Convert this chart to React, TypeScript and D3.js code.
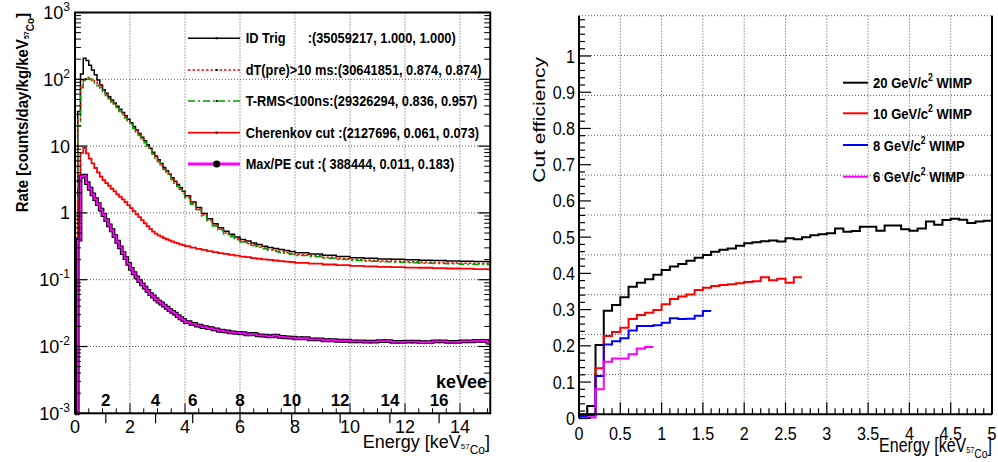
import React from "react";
import * as d3 from "d3";

const FONT = "'Liberation Sans', Arial, Helvetica, sans-serif";

// ---------------- Left panel: rate spectra (log y) ----------------
const binLowEdges: number[] = [
  ...d3.range(0, 40).map((i) => i / 10),
  ...d3.range(0, 20).map((i) => 4 + i * 0.2),
  ...d3.range(0, 14).map((i) => 8 + i * 0.5),
  15,
];
const binTopEdge = 15.1;

const idTrig = [
  0.006, 33, 120, 206, 192, 163, 138, 117, 98, 82,
  70, 62, 55, 49, 44, 39.5, 35.5, 31.9, 28.4, 25.3,
  22.3, 19.7, 17.4, 15.4, 13.6, 12.0, 10.5, 9.3, 8.1, 7.1,
  6.25, 5.5, 4.8, 4.27, 3.8, 3.36, 2.99, 2.66, 2.37, 2.11,
  1.8, 1.46, 1.2, 0.98, 0.82, 0.69, 0.6, 0.53, 0.48, 0.436,
  0.4, 0.378, 0.355, 0.336, 0.318, 0.303, 0.292, 0.282, 0.273, 0.264,
  0.253, 0.243, 0.232, 0.222, 0.214, 0.209, 0.205, 0.202, 0.199, 0.196, 0.194, 0.191, 0.189, 0.187,
  0.186,
];
const dtPre = [
  0.005, 25, 80, 100, 106, 105, 99, 91, 83, 76,
  66, 59, 52.5, 47, 42, 37.8, 34, 30.5, 27.2, 24.2,
  21.4, 18.9, 16.7, 14.8, 13.0, 11.5, 10.1, 8.9, 7.8, 6.8,
  6.0, 5.28, 4.6, 4.1, 3.64, 3.22, 2.87, 2.55, 2.27, 2.02,
  1.72, 1.39, 1.14, 0.93, 0.78, 0.655, 0.57, 0.5, 0.453, 0.41,
  0.377, 0.355, 0.333, 0.315, 0.298, 0.284, 0.273, 0.263, 0.255, 0.247,
  0.236, 0.227, 0.216, 0.207, 0.2, 0.195, 0.191, 0.188, 0.185, 0.182, 0.18, 0.178, 0.176, 0.174,
  0.173,
];
const tRms = [
  0.005, 20, 75, 96, 101, 100, 95, 88, 80, 73.5,
  64, 57, 51, 45.6, 40.8, 36.7, 33, 29.6, 26.4, 23.5,
  20.8, 18.4, 16.2, 14.4, 12.6, 11.2, 9.8, 8.65, 7.6, 6.6,
  5.83, 5.13, 4.47, 3.98, 3.53, 3.13, 2.79, 2.48, 2.2, 1.96,
  1.67, 1.35, 1.11, 0.9, 0.755, 0.635, 0.553, 0.485, 0.44, 0.398,
  0.366, 0.345, 0.324, 0.306, 0.29, 0.276, 0.265, 0.256, 0.248, 0.24,
  0.23, 0.221, 0.21, 0.201, 0.194, 0.189, 0.185, 0.182, 0.179, 0.177, 0.175, 0.173, 0.171, 0.169,
  0.168,
];
const cherenkov = [
  0.006, 1.5, 7.9, 9.4, 7.8, 6.5, 5.5, 4.7, 4.05, 3.5,
  3.1, 2.8, 2.55, 2.3, 2.1, 1.9, 1.74, 1.59, 1.45, 1.31,
  1.18, 1.06, 0.96, 0.865, 0.78, 0.7, 0.634, 0.57, 0.525, 0.49,
  0.462, 0.44, 0.42, 0.403, 0.387, 0.373, 0.36, 0.349, 0.339, 0.33,
  0.318, 0.303, 0.29, 0.279, 0.268, 0.259, 0.25, 0.243, 0.236, 0.229,
  0.222, 0.217, 0.211, 0.206, 0.202, 0.198, 0.194, 0.19, 0.187, 0.184,
  0.179, 0.174, 0.169, 0.165, 0.161, 0.158, 0.156, 0.154, 0.152, 0.151, 0.149, 0.147, 0.146, 0.144,
  0.143,
];
const maxPe = [
  0.0008, 0.4, 3.5, 3.6, 2.8, 2.3, 1.9, 1.6, 1.35, 1.12,
  0.93, 0.78, 0.65, 0.55, 0.45, 0.37, 0.305, 0.25, 0.21, 0.172,
  0.145, 0.125, 0.108, 0.095, 0.085, 0.076, 0.068, 0.061, 0.056, 0.051,
  0.047, 0.044, 0.041, 0.038, 0.035, 0.033, 0.031, 0.0285, 0.0265, 0.025,
  0.0232, 0.0218, 0.0205, 0.0195, 0.0188, 0.018, 0.0172, 0.0168, 0.0163, 0.016,
  0.0158, 0.0152, 0.0155, 0.0147, 0.0145, 0.0142, 0.0145, 0.0139, 0.0137, 0.0136,
  0.0133, 0.0128, 0.0124, 0.0122, 0.0119, 0.0118, 0.012, 0.0117, 0.0118, 0.0116, 0.0119, 0.0117, 0.0119, 0.0121,
  0.0114,
];

const leftLegendNames = ["ID Trig", "dT(pre)>10 ms:", "T-RMS<100ns:", "Cherenkov cut :", "Max/PE cut :"];
const leftLegendStats = [
  ":(35059217, 1.000, 1.000)",
  "(30641851, 0.874, 0.874)",
  "(29326294, 0.836, 0.957)",
  "(2127696, 0.061, 0.073)",
  "( 388444, 0.011, 0.183)",
];

const xTicksLeft = [0, 2, 4, 6, 8, 10, 12, 14];
const yDecadesLeft = [-3, -2, -1, 0, 1, 2, 3];
const keVeeLabels = [2, 4, 6, 8, 10, 12, 14, 16];
const keVeePositions = [1.12, 2.93, 4.28, 6.0, 7.88, 9.64, 11.45, 13.24];

// ---------------- Right panel: cut efficiency ----------------
const effBinWidth = 0.1;
const wimp20 = [
  0.01, 0.034, 0.202, 0.297, 0.313, 0.334, 0.363, 0.374, 0.384, 0.396,
  0.409, 0.419, 0.426, 0.435, 0.443, 0.451, 0.46, 0.465, 0.469, 0.476,
  0.483, 0.486, 0.489, 0.491, 0.488, 0.497, 0.494, 0.5, 0.505, 0.508,
  0.511, 0.524, 0.515, 0.517, 0.529, 0.529, 0.518, 0.532, 0.532, 0.522,
  0.518, 0.524, 0.543, 0.534, 0.547, 0.551, 0.548, 0.539, 0.543, 0.545,
];
const wimp10 = [
  0.008, 0.011, 0.138, 0.227, 0.238, 0.25, 0.274, 0.285, 0.291, 0.299,
  0.315, 0.329, 0.336, 0.342, 0.354, 0.36, 0.365, 0.368, 0.37, 0.373,
  0.376, 0.378, 0.389, 0.381, 0.385, 0.374, 0.389,
];
const wimp8 = [
  0.006, 0.008, 0.117, 0.204, 0.213, 0.221, 0.242, 0.255, 0.255, 0.257,
  0.264, 0.276, 0.274, 0.275, 0.283, 0.296,
];
const wimp6 = [0, 0.002, 0.08, 0.156, 0.165, 0.165, 0.177, 0.193, 0.197];

const rightLegendMass = ["20", "10", "8", "6"];
const xTicksRight = [0, 0.5, 1, 1.5, 2, 2.5, 3, 3.5, 4, 4.5, 5];
const yTicksRight = [0, 0.1, 0.2, 0.3, 0.4, 0.5, 0.6, 0.7, 0.8, 0.9, 1];

type TxtProps = {
  x: number; y: number; sx?: number; rot?: number; anchor?: string;
  size?: number; weight?: string | number; children?: React.ReactNode;
};
function Txt({ x, y, sx = 1, rot = 0, anchor = "start", size = 18, weight = "normal", children }: TxtProps) {
  const tf = `translate(${x},${y}) scale(${sx},1)` + (rot ? ` rotate(${rot})` : "");
  return (
    <text transform={tf} textAnchor={anchor as any} fontSize={size} fontWeight={weight} fontFamily={FONT} fill="#000">
      {children}
    </text>
  );
}

const GRID = { stroke: "#555", strokeWidth: 1, strokeDasharray: "1,2" };

export default function App() {
  const xL = d3.scaleLinear().domain([0, 15.1]).range([75, 490.25]);
  const yL = d3.scaleLog().domain([1e-3, 1e3]).range([413.3, 12.5]);
  const yLc = (v: number) => yL(Math.max(v, 1e-3));
  const xR = d3.scaleLinear().domain([0, 5]).range([579, 992]);
  const yR = d3.scaleLinear().domain([0, 1]).range([418.3, 56]);
  const gR = d3.scaleLinear().domain([0, 1]).range([414.3, 15.7]);

  const stepLine = d3.line<[number, number]>().curve(d3.curveStepAfter);
  const hist = (lows: number[], top: number, vals: number[], xs: (v: number) => number, ys: (v: number) => number) => {
    const pts: [number, number][] = lows.map((e, i) => [xs(e), ys(vals[i])]);
    pts.push([xs(top), ys(vals[vals.length - 1])]);
    return stepLine(pts) || "";
  };
  const effPath = (vals: number[]) =>
    hist(vals.map((_, i) => i * effBinWidth), vals.length * effBinWidth, vals, xR, yR);

  const binCenters = binLowEdges.map((e, i) => (e + (i + 1 < binLowEdges.length ? binLowEdges[i + 1] : binTopEdge)) / 2);

  const leftSeries = [
    { vals: idTrig, color: "#000", width: 1.5, dash: undefined as string | undefined },
    { vals: dtPre, color: "#ff0000", width: 1.6, dash: "2.5,2" },
    { vals: tRms, color: "#00a000", width: 1.5, dash: "7,3,2,3" },
    { vals: cherenkov, color: "#ff0000", width: 1.8, dash: undefined },
  ];

  const logMinor: number[] = [];
  d3.range(-3, 3).forEach((d) => d3.range(2, 10).forEach((k) => logMinor.push(k * Math.pow(10, d))));

  const leftLegendY = [38.3, 70, 101, 132.7, 164];
  const legendStyles = [
    { color: "#000", dash: undefined as string | undefined, w: 1.5 },
    { color: "#ff0000", dash: "2.5,2", w: 1.6 },
    { color: "#00a000", dash: "7,3,2,3", w: 1.5 },
    { color: "#ff0000", dash: undefined, w: 1.8 },
    { color: "#ff00ff", dash: undefined, w: 3 },
  ];

  const rightSeries = [
    { vals: wimp20, color: "#000" },
    { vals: wimp10, color: "#ff0000" },
    { vals: wimp8, color: "#0000ff" },
    { vals: wimp6, color: "#ff00ff" },
  ];
  const rightLegendY = [82.7, 113.3, 145, 176.7];

  const xMinorL = d3.range(0, 31).map((i) => i * 0.5);
  const yMinorR = d3.range(0, 56).map((i) => i * 0.02);
  const xMinorR = d3.range(0, 51).map((i) => i * 0.1);

  return (
    <svg width={998} height={462} style={{ position: "absolute", left: 0, top: 0, display: "block" }}>
      <rect x={0} y={0} width={998} height={462} fill="#fff" />

      {/* ================= LEFT PANEL ================= */}
      {xTicksLeft.filter((t) => t > 0).map((t) => (
        <line key={"gxl" + t} x1={xL(t)} x2={xL(t)} y1={yL(1e3)} y2={yL(1e-3)} {...GRID} />
      ))}
      {yDecadesLeft.filter((d) => d > -3 && d < 3).map((d) => (
        <line key={"gyl" + d} x1={xL(0)} x2={xL(15.1)} y1={yL(Math.pow(10, d))} y2={yL(Math.pow(10, d))} {...GRID} />
      ))}

      {leftSeries.map((s, i) => (
        <path key={"ls" + i} d={hist(binLowEdges, binTopEdge, s.vals, xL, yLc)} fill="none"
          stroke={s.color} strokeWidth={s.width} strokeDasharray={s.dash} />
      ))}
      <path d={hist(binLowEdges, binTopEdge, maxPe, xL, yLc)} fill="none" stroke="#000" strokeWidth={3.8} />
      {maxPe.map((v, i) => (
        <circle key={"mk" + i} cx={xL(binCenters[i])} cy={yLc(v)} r={1.9} fill="#000" />
      ))}
      <path d={hist(binLowEdges, binTopEdge, maxPe, xL, yLc)} fill="none" stroke="#ff00ff" strokeWidth={1.8} />

      <rect x={xL(0)} y={yL(1e3)} width={xL(15.1) - xL(0)} height={yL(1e-3) - yL(1e3)} fill="none" stroke="#000" strokeWidth={2} />

      {yDecadesLeft.map((d) => {
        const y = yL(Math.pow(10, d));
        return (
          <g key={"ytl" + d}>
            <line x1={xL(0)} x2={xL(0) + 12} y1={y} y2={y} stroke="#000" strokeWidth={1.2} />
            <line x1={xL(15.1)} x2={xL(15.1) - 12} y1={y} y2={y} stroke="#000" strokeWidth={1.2} />
          </g>
        );
      })}
      {logMinor.map((v, i) => (
        <g key={"ymn" + i}>
          <line x1={xL(0)} x2={xL(0) + 6} y1={yL(v)} y2={yL(v)} stroke="#000" strokeWidth={1} />
          <line x1={xL(15.1)} x2={xL(15.1) - 6} y1={yL(v)} y2={yL(v)} stroke="#000" strokeWidth={1} />
        </g>
      ))}
      {xMinorL.map((t) => (
        <line key={"xmn" + t} x1={xL(t)} x2={xL(t)} y1={yL(1e-3)} y2={yL(1e-3) - (t % 2 === 0 ? 10 : 5)} stroke="#000" strokeWidth={1} />
      ))}
      {keVeePositions.map((p, i) => (
        <line key={"kvt" + i} x1={xL(p)} x2={xL(p)} y1={yL(1e-3)} y2={yL(1e-3) + 10} stroke="#000" strokeWidth={1.2} />
      ))}

      {yDecadesLeft.map((d) => (
        <Txt key={"ylab" + d} x={70} y={yL(Math.pow(10, d)) + 6.5} anchor="end" size={18}>
          {d === 0 ? "1" : "10"}
          {d !== 0 && d !== 1 ? (
            <tspan fontSize={12} dy={-8}>{String(d)}</tspan>
          ) : null}
        </Txt>
      ))}
      {xTicksLeft.map((t) => (
        <Txt key={"xlab" + t} x={xL(t)} y={433} anchor="middle" size={18}>{String(t)}</Txt>
      ))}
      {keVeeLabels.map((l, i) => (
        <Txt key={"kvl" + i} x={xL(keVeePositions[i])} y={405.5} anchor="middle" size={17} weight="bold">{String(l)}</Txt>
      ))}
      <Txt x={487} y={388} anchor="end" size={18} weight="bold">keVee</Txt>

      <Txt x={490} y={448} anchor="end" size={18}>
        Energy [keV
        <tspan fontSize={8} dy={1}>57</tspan>
        <tspan fontSize={12} dy={5}>Co</tspan>
        <tspan fontSize={18} dy={-6}>]</tspan>
      </Txt>
      <Txt x={28} y={13} rot={-90} anchor="end" size={15} sx={1.12} weight="bold">
        Rate [counts/day/kg/keV
        <tspan fontSize={7} dy={1}>57</tspan>
        <tspan fontSize={10} dy={4}>Co</tspan>
        <tspan fontSize={15} dy={-5}>]</tspan>
      </Txt>

      {leftLegendNames.map((name, i) => {
        const y = leftLegendY[i];
        const st = legendStyles[i];
        return (
          <g key={"lleg" + i}>
            <line x1={188} x2={240} y1={y} y2={y} stroke={st.color} strokeWidth={st.w} strokeDasharray={st.dash} />
            {i < 4 ? (
              <rect x={215.7} y={y - 1} width={2} height={2} fill="#000" />
            ) : (
              <circle cx={216.7} cy={y} r={3.6} fill="#000" />
            )}
            {i === 0 ? (
              <>
                <Txt x={245.7} y={y + 5} size={14} sx={0.915} weight="bold">{name}</Txt>
                <Txt x={307.7} y={y + 5} size={14} sx={0.915} weight="bold">{leftLegendStats[0]}</Txt>
              </>
            ) : (
              <Txt x={245.7} y={y + 5} size={14} sx={0.915} weight="bold">{name + leftLegendStats[i]}</Txt>
            )}
          </g>
        );
      })}

      {/* ================= RIGHT PANEL ================= */}
      {d3.range(1, 11).map((k) => (
        <line key={"gyr" + k} x1={xR(0)} x2={xR(5)} y1={gR(k / 10)} y2={gR(k / 10)} {...GRID} />
      ))}
      {xTicksRight.filter((t) => t > 0).map((t) => (
        <line key={"gxr" + t} x1={xR(t)} x2={xR(t)} y1={gR(1)} y2={gR(0)} {...GRID} />
      ))}

      {rightSeries.map((s, i) => (
        <path key={"rs" + i} d={effPath(s.vals)} fill="none" stroke={s.color} strokeWidth={2} />
      ))}

      <line x1={xR(0)} x2={xR(0)} y1={gR(1)} y2={yR(0)} stroke="#000" strokeWidth={2} />
      <line x1={xR(0)} x2={xR(5)} y1={gR(0)} y2={gR(0)} stroke="#000" strokeWidth={2} />
      <line x1={xR(5)} x2={xR(5)} y1={gR(1)} y2={gR(0)} stroke="#000" strokeWidth={2} />

      {yMinorR.map((v, i) => (
        <line key={"ymr" + i} x1={xR(0)} x2={xR(0) + (i % 5 === 0 && v <= 1.001 ? 12 : 6)} y1={yR(v)} y2={yR(v)} stroke="#000" strokeWidth={1.2} />
      ))}
      {xMinorR.map((v, i) => (
        <line key={"xmr" + i} x1={xR(v)} x2={xR(v)} y1={gR(0)} y2={gR(0) - (i % 5 === 0 ? 12 : 6)} stroke="#000" strokeWidth={1.2} />
      ))}

      {yTicksRight.map((t) => (
        <Txt key={"yrl" + t} x={575} y={yR(t) + 6.5} anchor="end" size={18.5} sx={0.87}>{String(t)}</Txt>
      ))}
      {xTicksRight.map((t) => (
        <Txt key={"xrl" + t} x={xR(t)} y={440} anchor="middle" size={18.5} sx={0.87}>{String(t)}</Txt>
      ))}

      <Txt x={992} y={452} anchor="end" size={20} sx={0.8}>
        Energy [keV
        <tspan fontSize={9} dy={1}>57</tspan>
        <tspan fontSize={13} dy={5}>Co</tspan>
        <tspan fontSize={20} dy={-6}>]</tspan>
      </Txt>
      <Txt x={545} y={57} rot={-90} anchor="end" size={21} sx={0.78}>Cut efficiency</Txt>

      {rightLegendMass.map((m, i) => {
        const y = rightLegendY[i];
        return (
          <g key={"rleg" + i}>
            <line x1={843} x2={868} y1={y} y2={y} stroke={rightSeries[i].color} strokeWidth={2} />
            <Txt x={873} y={y + 5.5} size={15} sx={0.87} weight="bold">
              {m + " GeV/c"}
              <tspan fontSize={10} dy={-7}>2</tspan>
              <tspan dy={7}>{" WIMP"}</tspan>
            </Txt>
          </g>
        );
      })}
    </svg>
  );
}
